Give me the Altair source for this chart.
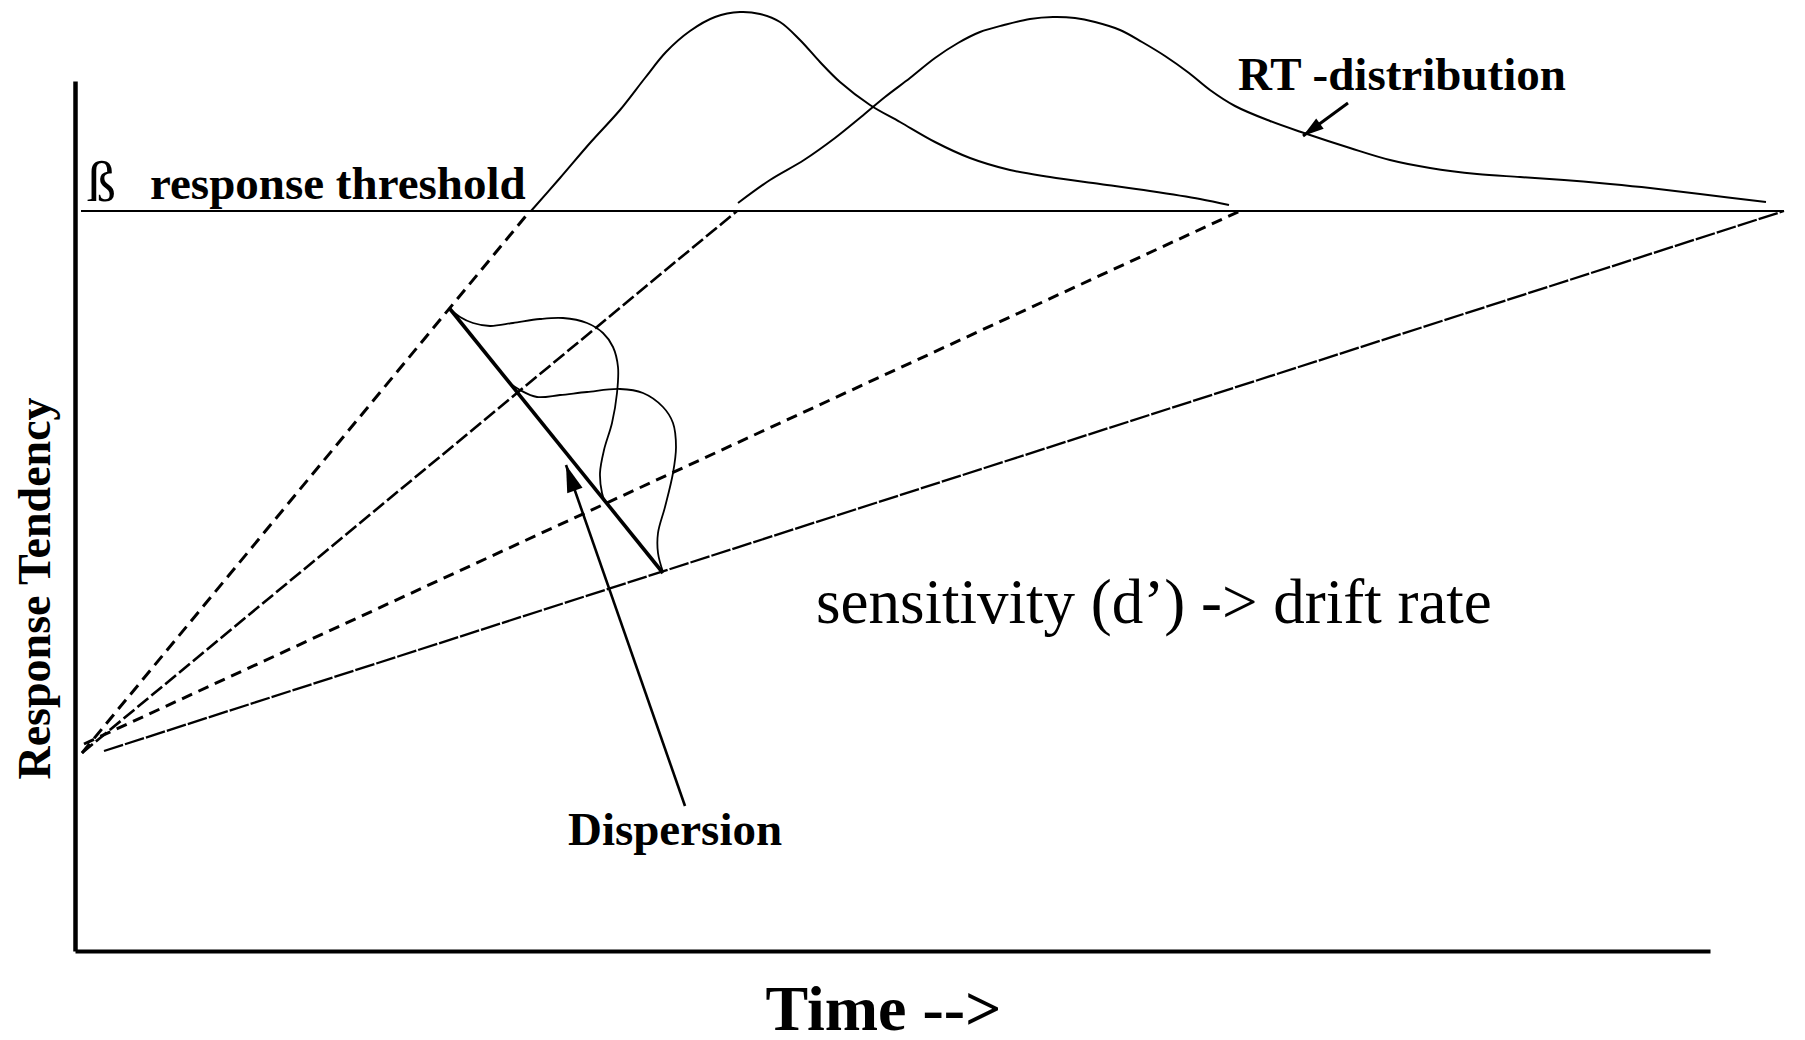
import math
import altair as alt
import pandas as pd

# ---------------- data (t = time units, r = response-tendency units) ----------------
threshold_t = [6, 1709]
threshold_r = [740, 740]

drift_start_t = [7, 7, 9, 29]
drift_start_r = [198, 198, 207, 200]
drift_end_t = [455, 662, 1165, 1709]
drift_end_r = [740, 740, 740, 740]

rt1_t = [456, 485, 515, 545, 570, 591, 615, 640, 665, 685, 705, 725, 745, 765, 795, 825,
         860, 895, 935, 975, 1025, 1075, 1125, 1154]
rt1_r = [740, 773, 808, 841, 873, 899, 920, 934, 939, 937, 929, 911, 889, 869, 846, 829,
         809, 793, 781, 774, 767, 760, 752, 746]

rt2_t = [663, 695, 729, 760, 786, 810, 835, 860, 883, 905, 929, 955, 978, 1000, 1020, 1045,
         1067, 1090, 1114, 1135, 1160, 1195, 1229, 1275, 1315, 1355, 1402, 1445, 1489, 1535,
         1575, 1625, 1691]
rt2_r = [748, 771, 791, 813, 834, 854, 873, 893, 908, 919, 926, 932, 934, 933, 929, 921,
         909, 895, 878, 861, 845, 830, 818, 803, 791, 783, 777, 774, 771, 767, 763, 757, 749]

disp_line_t = [375, 588]
disp_line_r = [642, 378]

dispA_t = [375, 385, 398, 415, 438, 465, 488, 512, 528, 538, 543, 542, 537, 529, 525, 527, 530]
dispA_r = [642, 634, 628, 625, 628, 632, 633, 628, 618, 604, 584, 558, 528, 501, 478, 458, 449]

dispB_t = [433, 445, 462, 485, 512, 545, 568, 588, 598, 601, 598, 590, 583, 583, 588]
dispB_r = [569, 561, 554, 556, 559, 562, 558, 544, 528, 504, 478, 444, 418, 398, 379]

arrow_tail_t = [610, 1273]
arrow_tail_r = [145, 848]
arrow_tip_t = [491, 1228]
arrow_tip_r = [486, 815]

label_text = ["ß", "response threshold", "RT -distribution",
              "sensitivity (d’) -> drift rate", "Dispersion"]
label_t = [12, 75, 1163, 741, 600]
label_r = [750, 752, 861, 328, 106]

x_title = "Time -->"
y_title = "Response Tendency"

# ---------------- styles ----------------
FONT = "Liberation Serif"
drift_dash = [[12, 7], [14, 4], [11, 7], [20, 2]]
drift_width = [3.0, 2.6, 3.0, 2.3]
label_style = [
    dict(fontSize=58, fontWeight="normal", align="left"),
    dict(fontSize=47, fontWeight="bold", align="left"),
    dict(fontSize=47, fontWeight="bold", align="left"),
    dict(fontSize=63, fontWeight="normal", align="left"),
    dict(fontSize=47, fontWeight="bold", align="center"),
]
arrow_width = [2.6, 3.0]
arrow_head_size = [729, 441]

# ---------------- encodings ----------------
X = alt.X("t:Q", scale=alt.Scale(domain=[0, 1635], nice=False, zero=False),
          axis=alt.Axis(title=x_title, labels=False, ticks=False, grid=False,
                        domainColor="black", domainWidth=4,
                        titleFont=FONT, titleFontSize=64, titleFontWeight="bold",
                        titleColor="black", titleX=808, titleY=78,
                        titleAlign="center", titleBaseline="alphabetic"))
Y = alt.Y("r:Q", scale=alt.Scale(domain=[0, 870], nice=False, zero=False),
          axis=alt.Axis(title=y_title, labels=False, ticks=False, grid=False,
                        domainColor="black", domainWidth=4.5,
                        titleFont=FONT, titleFontSize=46, titleFontWeight="bold",
                        titleColor="black", titleAngle=270, titleX=-26, titleY=507,
                        titleAlign="center", titleBaseline="alphabetic"))


def path_df(ts, rs):
    return pd.DataFrame({"t": ts, "r": rs, "i": list(range(len(ts)))})


def line_layer(df, **kw):
    return alt.Chart(df).mark_line(color="black", **kw).encode(
        x=X, y=Y, order=alt.Order("i:Q"))


layers = []
layers.append(line_layer(path_df(threshold_t, threshold_r), strokeWidth=2.2))

for k in range(4):
    df = path_df([drift_start_t[k], drift_end_t[k]], [drift_start_r[k], drift_end_r[k]])
    layers.append(line_layer(df, strokeWidth=drift_width[k], strokeDash=drift_dash[k]))

layers.append(line_layer(path_df(rt1_t, rt1_r), strokeWidth=2.0, interpolate="catmull-rom"))
layers.append(line_layer(path_df(rt2_t, rt2_r), strokeWidth=2.0, interpolate="catmull-rom"))
layers.append(line_layer(path_df(disp_line_t, disp_line_r), strokeWidth=3.6))
layers.append(line_layer(path_df(dispA_t, dispA_r), strokeWidth=1.8, interpolate="catmull-rom"))
layers.append(line_layer(path_df(dispB_t, dispB_r), strokeWidth=1.8, interpolate="catmull-rom"))

for k in range(2):
    df = path_df([arrow_tail_t[k], arrow_tip_t[k]], [arrow_tail_r[k], arrow_tip_r[k]])
    layers.append(line_layer(df, strokeWidth=arrow_width[k]))

heads = pd.DataFrame({
    "t": arrow_tip_t,
    "r": arrow_tip_r,
    "ang": [(math.degrees(math.atan2(arrow_tip_t[k] - arrow_tail_t[k],
                                     arrow_tip_r[k] - arrow_tail_r[k])) + 360) % 360
            for k in range(2)],
    "sz": arrow_head_size,
})
layers.append(
    alt.Chart(heads).mark_point(shape="M0,0L0.6,2L-0.6,2Z", filled=True, color="black",
                                opacity=1, strokeWidth=0).encode(
        x=X, y=Y, angle=alt.Angle("ang:Q", scale=None), size=alt.Size("sz:Q", scale=None))
)

for k in range(len(label_text)):
    df = pd.DataFrame({"t": [label_t[k]], "r": [label_r[k]], "label": [label_text[k]]})
    st = label_style[k]
    layers.append(
        alt.Chart(df).mark_text(font=FONT, color="black", baseline="alphabetic",
                                fontSize=st["fontSize"], fontWeight=st["fontWeight"],
                                align=st["align"]).encode(x=X, y=Y, text="label:N")
    )

chart = alt.layer(*layers).properties(
    width=1635, height=870,
    padding={"left": 67, "top": 73, "right": 87, "bottom": 100},
    autosize=alt.AutoSizeParams(type="none"),
    background="white",
).configure_view(strokeWidth=0)

chart.save("out.html", embed_options={"renderer": "svg", "actions": False})
